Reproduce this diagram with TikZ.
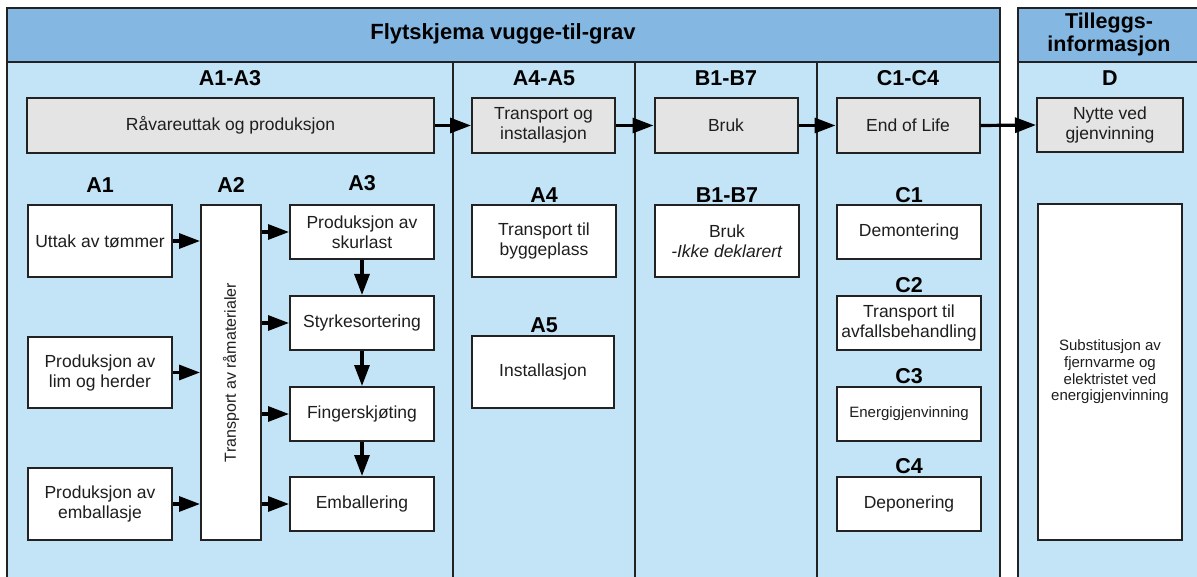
\documentclass[tikz,border=0pt]{standalone}
\usepackage{fontspec}
\setmainfont{Liberation Sans}
\usetikzlibrary{arrows.meta}
\definecolor{hdrblue}{HTML}{84B8E2}
\definecolor{bodyblue}{HTML}{C2E4F6}
\definecolor{boxgray}{HTML}{E4E4E4}
\definecolor{edge}{HTML}{222222}
\definecolor{txt}{HTML}{1E1E1E}
\tikzset{
  frame/.style={draw=edge, line width=2pt},
  wbox/.style={draw=edge, line width=2pt, fill=white, align=center, text=txt,
     inner sep=0pt, font=\fontsize{17.5}{20}\selectfont},
  gbox/.style={wbox, fill=boxgray},
  lbl/.style={font=\bfseries\fontsize{21.5}{23}\selectfont, text=black, inner sep=0pt, align=center},
  arr/.style={draw=black, line width=3.2pt, -{Triangle[length=21pt,width=15pt]}},
}
\begin{document}
\begin{tikzpicture}[x=1pt,y=-1pt]
\useasboundingbox (0,0) rectangle (1197,577);
\clip (0,0) rectangle (1197,577);
\fill[white] (0,0) rectangle (1197,577);
% main frame
\filldraw[frame, fill=bodyblue] (7,8) rectangle (1000,640);
\filldraw[frame, fill=hdrblue] (7,8) rectangle (1000,62);
% D frame
\filldraw[frame, fill=bodyblue] (1018,8) rectangle (1240,640);
\filldraw[frame, fill=hdrblue] (1018,8) rectangle (1240,62);
% dividers
\draw[frame] (453,62) -- (453,640);
\draw[frame] (635,62) -- (635,640);
\draw[frame] (817,62) -- (817,640);
% titles
\node[lbl, font=\bfseries\fontsize{22}{23}\selectfont] (title) at (503,34) {Flytskjema vugge-til-grav};
\node[lbl] (tillegg) at (1109,34) {Tilleggs-\\informasjon};
% section labels
\node[lbl] (lA13) at (230,78) {A1-A3};
\node[lbl] (lA45) at (544,78) {A4-A5};
\node[lbl] (lB) at (726,78) {B1-B7};
\node[lbl] (lC) at (908,78) {C1-C4};
\node[lbl] (lD) at (1110,78) {D};
% top gray boxes
\node[gbox, minimum width=407pt, minimum height=55pt] (raw) at (230.5,125.5) {Råvareuttak og produksjon};
\node[gbox, minimum width=143pt, minimum height=55pt] (tio) at (543.5,125.5) {Transport og\\installasjon};
\node[gbox, minimum width=143pt, minimum height=55pt] (bruk) at (726,125.5) {Bruk};
\node[gbox, minimum width=143pt, minimum height=55pt] (eol) at (908,125.5) {End of Life};
\node[gbox, minimum width=146pt, minimum height=54pt] (nytte) at (1110,125) {Nytte ved\\gjenvinning};
\draw[arr] (raw.east) -- (tio.west);
\draw[arr] (tio.east) -- (bruk.west);
\draw[arr] (bruk.east) -- (eol.west);
\draw[arr] (eol.east) -- (nytte.west);
% A1-A3 sub labels
\node[lbl] (lA1) at (100,185) {A1};
\node[lbl] (lA2) at (231,185) {A2};
\node[lbl] (lA3) at (362,183) {A3};
% A1 boxes
\node[wbox, minimum width=144pt, minimum height=72pt] (u1) at (100,241) {Uttak av tømmer};
\node[wbox, minimum width=144pt, minimum height=71pt] (u2) at (100,372.5) {Produksjon av\\lim og herder};
\node[wbox, minimum width=144pt, minimum height=72pt] (u3) at (100,504) {Produksjon av\\emballasje};
% A2 bar
\node[wbox, minimum width=60pt, minimum height=335pt] (a2) at (231,372.5) {};
\node[rotate=90, text=txt, font=\fontsize{16}{18}\selectfont, inner sep=0pt] (a2t) at (a2.center) {Transport av råmaterialer};
% A3 boxes
\node[wbox, minimum width=144pt, minimum height=54pt] (p1) at (362,232) {Produksjon av\\skurlast};
\node[wbox, minimum width=144pt, minimum height=54pt] (p2) at (362,323) {Styrkesortering};
\node[wbox, minimum width=144pt, minimum height=54pt] (p3) at (362,414) {Fingerskjøting};
\node[wbox, minimum width=144pt, minimum height=54pt] (p4) at (362,504) {Emballering};
\draw[arr] (u1.east) -- (u1.east -| a2.west);
\draw[arr] (u2.east) -- (u2.east -| a2.west);
\draw[arr] (u3.east) -- (u3.east -| a2.west);
\draw[arr] (a2.east |- p1.west) -- (p1.west);
\draw[arr] (a2.east |- p2.west) -- (p2.west);
\draw[arr] (a2.east |- p3.west) -- (p3.west);
\draw[arr] (a2.east |- p4.west) -- (p4.west);
\draw[arr] (p1.south) -- (p2.north);
\draw[arr] (p2.south) -- (p3.north);
\draw[arr] (p3.south) -- (p4.north);
% A4 A5
\node[lbl] (lA4) at (544,195) {A4};
\node[wbox, minimum width=144pt, minimum height=72pt] (a4) at (544,241) {Transport til\\byggeplass};
\node[lbl] (lA5) at (544,325) {A5};
\node[wbox, minimum width=142pt, minimum height=72pt] (a5) at (543,372) {Installasjon};
% B
\node[lbl] (lB17) at (727,195) {B1-B7};
\node[wbox, minimum width=144pt, minimum height=72pt] (b) at (727,241) {Bruk\\\textit{-Ikke deklarert}};
% C
\node[lbl] (lC1) at (909,195) {C1};
\node[wbox, minimum width=144pt, minimum height=54pt] (c1) at (909,232) {Demontering};
\node[lbl] (lC2) at (909,285) {C2};
\node[wbox, minimum width=144pt, minimum height=54pt] (c2) at (909,323) {Transport til\\avfallsbehandling};
\node[lbl] (lC3) at (909,376) {C3};
\node[wbox, minimum width=144pt, minimum height=54pt, font=\fontsize{15}{17}\selectfont] (c3) at (909,414) {Energigjenvinning};
\node[lbl] (lC4) at (909,466) {C4};
\node[wbox, minimum width=144pt, minimum height=54pt] (c4) at (909,504) {Deponering};
% D
\node[wbox, minimum width=144pt, minimum height=336pt, font=\fontsize{15}{16.7}\selectfont] (d) at (1110,372) {Substitusjon av\\fjernvarme og\\elektristet ved\\energigjenvinning};
\end{tikzpicture}
\end{document}
